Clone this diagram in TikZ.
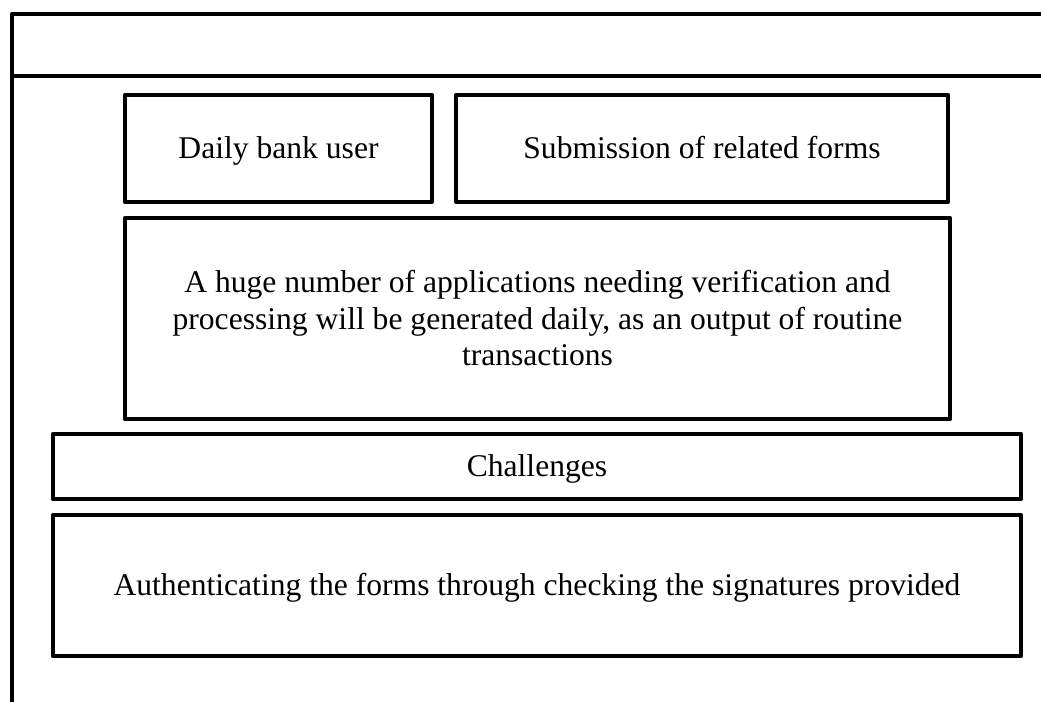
\documentclass[tikz,border=0pt]{standalone}
\usepackage{fontspec}
\setmainfont{Liberation Serif}
\begin{document}
\begin{tikzpicture}[x=1pt,y=-1pt,
  frameline/.style={line width=4.5pt, line join=round},
  panel/.style={draw, line width=4.5pt, line join=round, inner sep=0pt,
    align=center, font=\fontsize{31.6}{36.5}\selectfont},
  oneline/.style={text height=24pt, text depth=5pt}]
  \useasboundingbox (0,0) rectangle (1041,702);
  % outer frame with empty title compartment
  \coordinate (ftr) at (1041,14);
  \coordinate (ftl) at (12,14);
  \coordinate (fbl) at (12,702);
  \coordinate (hl) at (12,76);
  \coordinate (hr) at (1041,76);
  \draw[frameline] (ftr) -- (ftl) -- (fbl);
  \draw[frameline] (hl) -- (hr);
  % panels
  \node[panel, oneline, minimum width=307pt, minimum height=107pt] (user) at (278.5,148.5) {Daily bank user};
  \node[panel, oneline, minimum width=492pt, minimum height=107pt] (forms) at (702,148.5) {Submission of related forms};
  \node[panel, minimum width=825pt, minimum height=201pt] (apps) at (537.5,318.5)
    {A huge number of applications needing verification and\\
     processing will be generated daily, as an output of routine\\
     transactions};
  \node[panel, oneline, minimum width=968pt, minimum height=65pt] (chal) at (537,466.5) {Challenges};
  \node[panel, oneline, minimum width=968pt, minimum height=141pt] (auth) at (537,585.5)
    {Authenticating the forms through checking the signatures provided};
\end{tikzpicture}
\end{document}
